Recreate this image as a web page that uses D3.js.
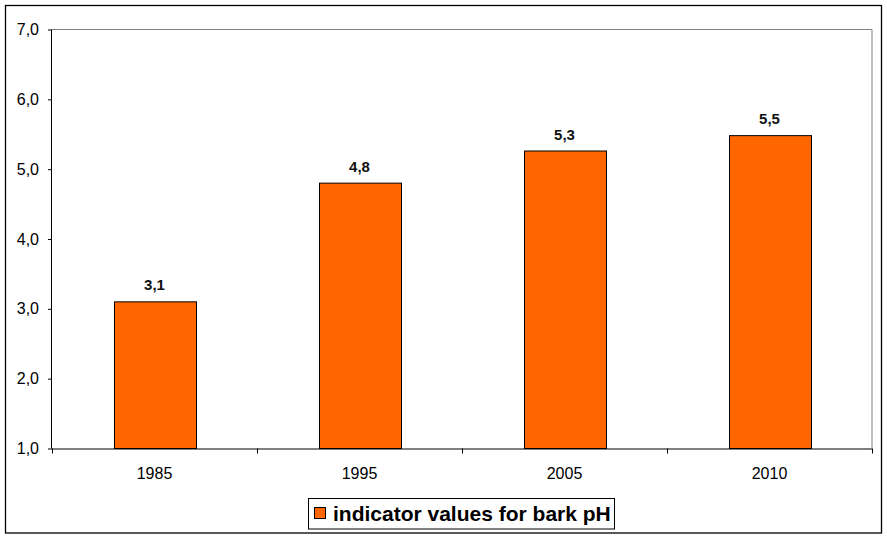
<!DOCTYPE html>
<html><head><meta charset="utf-8">
<script src="https://cdn.jsdelivr.net/npm/d3@7"></script>
<style>body{margin:0;background:#fff}svg{display:block}text{font-family:Arial,"Liberation Sans",sans-serif}</style>
</head><body>
<svg id="c" width="887" height="538"></svg>
<script>
const categories = ["1985", "1995", "2005", "2010"];
const values = [3.1, 4.8, 5.26, 5.48];
const yTicks = [1, 2, 3, 4, 5, 6, 7];
const seriesName = "indicator values for bark pH";

const svg = d3.select("#c");
const m = {left: 52, top: 29.5, right: 872, bottom: 448.5};
const fmt = v => d3.format(".1f")(v).replace(".", ",");

// outer border
svg.append("rect").attr("x", 5.5).attr("y", 5.5).attr("width", 876).attr("height", 527.5)
  .attr("fill", "#fff").attr("stroke", "#000").attr("stroke-width", 1.3);

const x = d3.scaleBand().domain(categories).range([m.left, m.right]).paddingInner(0.6).paddingOuter(0.3);
const y = d3.scaleLinear().domain([1, 7]).range([m.bottom, m.top]);

// plot area top/right gray border
svg.append("path").attr("d", `M${m.left},${m.top}H${m.right}V${m.bottom}`)
  .attr("fill", "none").attr("stroke", "#808080").attr("stroke-width", 1);

// bars
svg.selectAll("rect.bar").data(values).join("rect").attr("class", "bar")
  .attr("x", (d, i) => Math.round(x(categories[i])) + 0.5)
  .attr("y", d => y(d))
  .attr("width", x.bandwidth())
  .attr("height", d => y(1) - y(d))
  .attr("fill", "#FF6600").attr("stroke", "#000").attr("stroke-width", 1);

// value labels
svg.selectAll("text.val").data(values).join("text").attr("class", "val")
  .attr("x", (d, i) => x(categories[i]) + x.bandwidth() / 2)
  .attr("y", d => y(d) - 11.5)
  .attr("text-anchor", "middle").attr("font-size", 15).attr("font-weight", "bold").attr("fill", "#111")
  .text(d => fmt(d));

// y axis
const yAxis = d3.axisLeft(y).tickValues(yTicks).tickFormat(fmt).tickSize(4).tickPadding(9);
const gy = svg.append("g").attr("transform", `translate(${m.left},0)`).call(yAxis);
gy.select(".domain").attr("stroke", "#000").attr("d", `M-0.5,${m.top}V${m.bottom}`);
gy.selectAll(".tick line").attr("stroke", "#000");
gy.selectAll(".tick text").attr("font-size", 16).attr("fill", "#000").attr("font-family", "Arial, 'Liberation Sans', sans-serif");

// x axis
const xb = d3.scaleLinear().domain([0, categories.length]).range([m.left, m.right]);
const gx = svg.append("g").attr("transform", `translate(0,${m.bottom})`);
gx.append("path").attr("d", `M${m.left},0.5H${m.right}`).attr("stroke", "#000");
gx.selectAll("line.t").data(d3.range(categories.length + 1)).join("line").attr("class", "t")
  .attr("x1", d => Math.round(xb(d)) + 0.5).attr("x2", d => Math.round(xb(d)) + 0.5)
  .attr("y1", 0).attr("y2", 5).attr("stroke", "#000");
gx.selectAll("text").data(categories).join("text")
  .attr("x", d => x(d) + x.bandwidth() / 2).attr("y", 30)
  .attr("text-anchor", "middle").attr("font-size", 16).attr("fill", "#000").text(d => d);

// legend
const lg = svg.append("g");
lg.append("rect").attr("x", 308.5).attr("y", 498.5).attr("width", 306).attr("height", 30.5)
  .attr("fill", "#fff").attr("stroke", "#000").attr("stroke-width", 1);
lg.append("rect").attr("x", 314.5).attr("y", 507.5).attr("width", 11).attr("height", 11)
  .attr("fill", "#FF6600").attr("stroke", "#000").attr("stroke-width", 1);
lg.append("text").attr("x", 333).attr("y", 521).attr("font-size", 21).attr("font-weight", "bold")
  .attr("fill", "#000").text(seriesName);
</script>
</body></html>
